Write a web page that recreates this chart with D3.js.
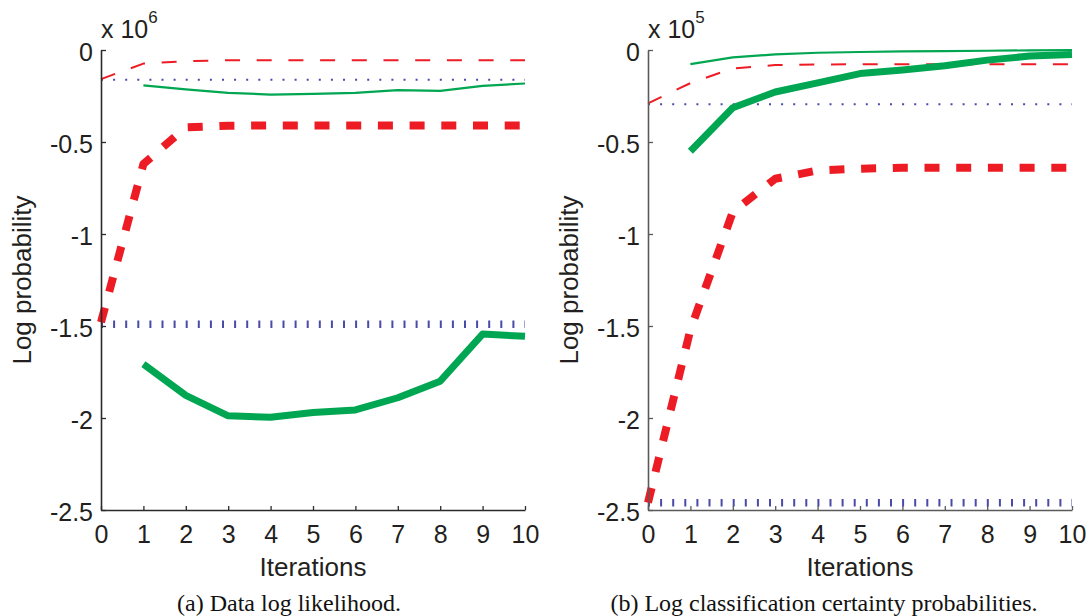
<!DOCTYPE html>
<html>
<head>
<meta charset="utf-8">
<script src="https://cdn.jsdelivr.net/npm/d3@7"></script>
<style>
  body { margin: 0; background: #fff; }
  svg { display: block; }
</style>
</head>
<body>
<svg id="chart" width="1091" height="616"></svg>
<script>
// iterations on the x axis
const iterations = [0, 1, 2, 3, 4, 5, 6, 7, 8, 9, 10]
const yTicks = [0, -0.5, -1, -1.5, -2, -2.5]
const yTickLabels = ['0', '-0.5', '-1', '-1.5', '-2', '-2.5']

// (a) data log likelihood, x 10^6
const llThinBlue = [-0.162, -0.162, -0.162, -0.162, -0.162, -0.162, -0.162, -0.162, -0.162, -0.162, -0.162]
const llThinRed = [-0.158, -0.074, -0.061, -0.056, -0.056, -0.056, -0.056, -0.056, -0.056, -0.056, -0.056]
const llThinGreen = [null, -0.192, -0.214, -0.233, -0.242, -0.238, -0.233, -0.218, -0.222, -0.195, -0.182]
const llThickBlue = [-1.49, -1.49, -1.49, -1.49, -1.49, -1.49, -1.49, -1.49, -1.49, -1.49, -1.49]
const llThickRed = [-1.48, -0.62, -0.42, -0.412, -0.41, -0.41, -0.41, -0.41, -0.41, -0.41, -0.41]
const llThickGreen = [null, -1.707, -1.877, -1.988, -1.996, -1.97, -1.956, -1.89, -1.80, -1.544, -1.556]

// (b) log classification certainty, x 10^5
const lcThinBlue = [-0.295, -0.295, -0.295, -0.295, -0.295, -0.295, -0.295, -0.295, -0.295, -0.295, -0.295]
const lcThinRed = [-0.29, -0.18, -0.10, -0.082, -0.079, -0.077, -0.077, -0.077, -0.077, -0.077, -0.077]
const lcThinGreen = [null, -0.077, -0.04, -0.024, -0.015, -0.011, -0.008, -0.006, -0.004, -0.002, -0.001]
const lcThickBlue = [-2.46, -2.46, -2.46, -2.46, -2.46, -2.46, -2.46, -2.46, -2.46, -2.46, -2.46]
const lcThickRed = [-2.46, -1.52, -0.88, -0.70, -0.655, -0.645, -0.64, -0.64, -0.64, -0.64, -0.64]
const lcThickGreen = [null, -0.55, -0.314, -0.228, -0.179, -0.128, -0.109, -0.086, -0.055, -0.033, -0.024]

const RED = '#ed1c24'
const GREEN = '#00a651'
const BLUE = '#4a4aa8'

const styles = {
  thinBlue: { color: BLUE, width: 2, dash: '2,10.1' },
  thickBlue: { color: BLUE, width: 7.5, dash: '2,10.1' },
  thinRed: { color: RED, width: 2, dash: '15,16.7' },
  thickRed: { color: RED, width: 8, dash: '15,16.7' },
  thinGreen: { color: GREEN, width: 2.2, dash: null },
  thickGreen: { color: GREEN, width: 7, dash: null }
}

const panels = [
  {
    left: 101, right: 525, axisColor: '#2b2b2b', exponent: '6',
    caption: '(a) Data log likelihood.', captionX: 289,
    series: [
      [llThinBlue, 'thinBlue'], [llThickBlue, 'thickBlue'],
      [llThinRed, 'thinRed'], [llThickRed, 'thickRed'],
      [llThinGreen, 'thinGreen'], [llThickGreen, 'thickGreen']
    ]
  },
  {
    left: 648, right: 1072, axisColor: '#5a5a5a', exponent: '5',
    caption: '(b) Log classification certainty probabilities.', captionX: 824,
    series: [
      [lcThinBlue, 'thinBlue'], [lcThickBlue, 'thickBlue'],
      [lcThinRed, 'thinRed'], [lcThickRed, 'thickRed'],
      [lcThinGreen, 'thinGreen'], [lcThickGreen, 'thickGreen']
    ]
  }
]

const plotTop = 50
const plotBottom = 510
const svg = d3.select('#chart')
const sans = 'Helvetica, Arial, "Liberation Sans", sans-serif'

panels.forEach(p => {
  const x = d3.scaleLinear().domain([0, 10]).range([p.left, p.right])
  const y = d3.scaleLinear().domain([-2.5, 0]).range([plotBottom, plotTop])
  const g = svg.append('g')

  // lines
  p.series.forEach(([values, key]) => {
    const s = styles[key]
    const line = d3.line()
      .defined(d => d != null)
      .x((d, i) => x(iterations[i]))
      .y(d => y(d))
    g.append('path')
      .attr('d', line(values))
      .attr('fill', 'none')
      .attr('stroke', s.color)
      .attr('stroke-width', s.width)
      .attr('stroke-dasharray', s.dash)
      .attr('stroke-linejoin', 'round')
  })

  // x axis, ticks point inward
  const xAxis = g.append('g')
    .attr('transform', `translate(0,${plotBottom})`)
    .call(d3.axisBottom(x).tickValues(iterations).tickSizeInner(-4).tickSizeOuter(0).tickPadding(10))
  xAxis.select('.domain').attr('stroke', p.axisColor).attr('stroke-width', 1.6)
  xAxis.selectAll('.tick line').attr('stroke', p.axisColor).attr('stroke-width', 1.3)
  xAxis.selectAll('.tick text')
    .attr('y', 33).attr('dy', 0)
    .attr('font-family', sans).attr('font-size', 25).attr('fill', '#231f20')

  // y axis
  const yAxis = g.append('g')
    .attr('transform', `translate(${p.left},0)`)
    .call(d3.axisLeft(y).tickValues(yTicks).tickFormat((d, i) => yTickLabels[i])
      .tickSizeInner(-5).tickSizeOuter(0).tickPadding(9))
  yAxis.select('.domain').attr('stroke', p.axisColor).attr('stroke-width', 1.6)
  yAxis.selectAll('.tick line').attr('stroke', p.axisColor).attr('stroke-width', 1.3)
  yAxis.selectAll('.tick text')
    .attr('x', -8).attr('dy', '0.42em')
    .attr('font-family', sans).attr('font-size', 25).attr('fill', '#231f20')

  // exponent label
  const ex = g.append('text')
    .attr('x', p.left).attr('y', 38)
    .attr('font-family', sans).attr('font-size', 25).attr('fill', '#231f20')
  ex.append('tspan').text('x 10')
  ex.append('tspan').attr('dy', -15).attr('font-size', 17).text(p.exponent)

  // axis titles
  g.append('text')
    .attr('transform', `translate(${p.left - 79},${(plotTop + plotBottom) / 2}) rotate(-90)`)
    .attr('text-anchor', 'middle').attr('dy', '0.36em')
    .attr('font-family', sans).attr('font-size', 26).attr('fill', '#231f20')
    .text('Log probability')

  g.append('text')
    .attr('x', (p.left + p.right) / 2).attr('y', 576)
    .attr('text-anchor', 'middle')
    .attr('font-family', sans).attr('font-size', 26).attr('fill', '#231f20')
    .text('Iterations')

  g.append('text')
    .attr('x', p.captionX).attr('y', 611)
    .attr('text-anchor', 'middle')
    .attr('font-family', '"Times New Roman", "Liberation Serif", serif').attr('font-size', 24).attr('fill', '#111')
    .text(p.caption)
})
</script>
</body>
</html>
